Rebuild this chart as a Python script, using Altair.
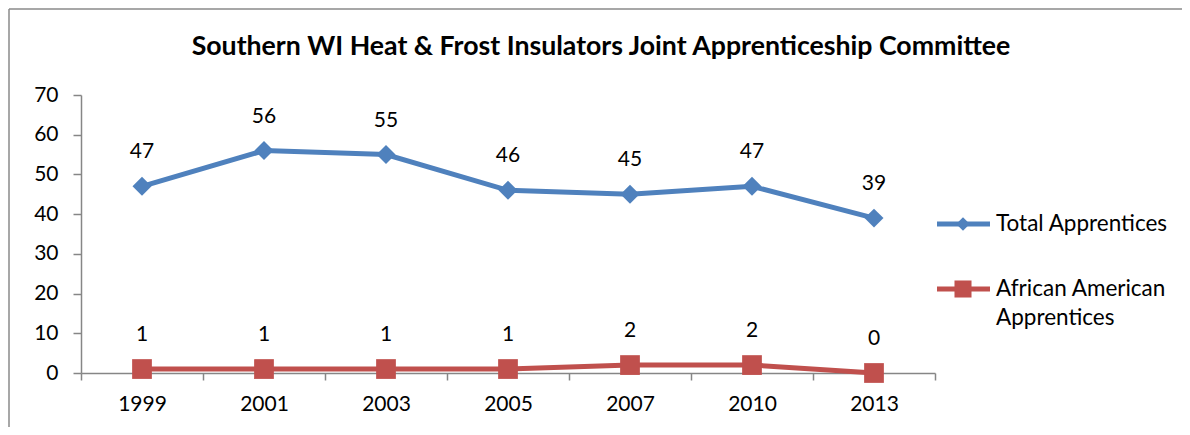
import altair as alt
import pandas as pd

years = ["1999", "2001", "2003", "2005", "2007", "2010", "2013"]
total_apprentices = [47, 56, 55, 46, 45, 47, 39]
african_american_apprentices = [1, 1, 1, 1, 2, 2, 0]

series_names = ["Total Apprentices", "African American Apprentices"]
series_colors = ["#4F81BD", "#C0504D"]
title_text = "Southern WI Heat & Frost Insulators Joint Apprenticeship Committee"

df = pd.DataFrame({
    "year": years * 2,
    "value": total_apprentices + african_american_apprentices,
    "series": [series_names[0]] * len(years) + [series_names[1]] * len(years),
})

W, H = 854, 278
FONT = "Lato"
AXIS_GRAY = "#868686"
NUM_SIZE = 21

x_enc = alt.X(
    "year:N", sort=years, bandPosition=0.5,
    scale=alt.Scale(type="band", paddingInner=0, paddingOuter=0),
    axis=alt.Axis(title=None, labelAngle=0, tickBand="extent", tickSize=7,
                  labelPadding=13, domainColor=AXIS_GRAY, tickColor=AXIS_GRAY,
                  domainWidth=1.5, tickWidth=1.5, labelFont=FONT, labelFontSize=NUM_SIZE,
                  labelColor="black", grid=False),
)
y_enc = alt.Y(
    "value:Q",
    scale=alt.Scale(domain=[0, 70], nice=False),
    axis=alt.Axis(title=None, values=list(range(0, 71, 10)), grid=False, tickSize=8,
                  labelPadding=15, domainColor=AXIS_GRAY, tickColor=AXIS_GRAY,
                  domainWidth=1.5, tickWidth=1.5, labelFont=FONT, labelFontSize=NUM_SIZE,
                  labelColor="black"),
)
color_enc = alt.Color("series:N", scale=alt.Scale(domain=series_names, range=series_colors), legend=None)

base = alt.Chart(df)

lines = base.mark_line(strokeWidth=5).encode(x=x_enc, y=y_enc, color=color_enc, detail="series:N")

pts_total = base.transform_filter(alt.datum.series == series_names[0]).mark_point(
    shape="diamond", filled=True, size=360, opacity=1, color=series_colors[0]
).encode(x=x_enc, y=y_enc)

pts_aa = base.transform_filter(alt.datum.series == series_names[1]).mark_point(
    shape="square", filled=True, size=390, opacity=1, color=series_colors[1]
).encode(x=x_enc, y=y_enc)

labels = base.mark_text(dy=-34, fontSize=NUM_SIZE, font=FONT, color="black").encode(
    x=x_enc, y=y_enc, text="value:Q"
)

one = pd.DataFrame({"k": [0]})
c1 = alt.Chart(one)

title = c1.mark_text(text=title_text, fontSize=26.7, fontWeight="bold", font=FONT,
                     color="black", align="center", baseline="middle").encode(
    x=alt.value(520), y=alt.value(-48))

frame_top = c1.mark_rule(color="#8a8a8a", strokeWidth=1.5).encode(
    x=alt.value(-72), x2=alt.value(1110), y=alt.value(-86))
frame_left = c1.mark_rule(color="#8a8a8a", strokeWidth=1.5).encode(
    x=alt.value(-72), y=alt.value(-86), y2=alt.value(340))

leg_line1 = c1.mark_rule(color=series_colors[0], strokeWidth=5).encode(
    x=alt.value(856), x2=alt.value(909), y=alt.value(129))
leg_pt1 = c1.mark_point(shape="diamond", filled=True, size=180, opacity=1,
                        color=series_colors[0]).encode(x=alt.value(882), y=alt.value(129))
leg_txt1 = c1.mark_text(text=series_names[0], fontSize=22.5, font=FONT, color="black",
                        align="left", baseline="middle").encode(x=alt.value(915), y=alt.value(129))

leg_line2 = c1.mark_rule(color=series_colors[1], strokeWidth=5).encode(
    x=alt.value(856), x2=alt.value(909), y=alt.value(194))
leg_pt2 = c1.mark_point(shape="square", filled=True, size=290, opacity=1,
                        color=series_colors[1]).encode(x=alt.value(882), y=alt.value(194))
leg_txt2 = c1.mark_text(text=["African American", "Apprentices"], fontSize=22.5, font=FONT,
                        color="black", align="left", baseline="middle", lineHeight=29).encode(
    x=alt.value(915), y=alt.value(194))

chart = alt.layer(
    frame_top, frame_left, lines, pts_total, pts_aa, labels, title,
    leg_line1, leg_pt1, leg_txt1, leg_line2, leg_pt2, leg_txt2,
).properties(
    width=W, height=H,
    autosize=alt.AutoSizeParams(type="none"),
    padding={"left": 73, "top": 87, "right": 247, "bottom": 54},
    background="white",
).configure_view(stroke=None)

chart.save("out.html", embed_options={"renderer": "svg", "actions": False})
